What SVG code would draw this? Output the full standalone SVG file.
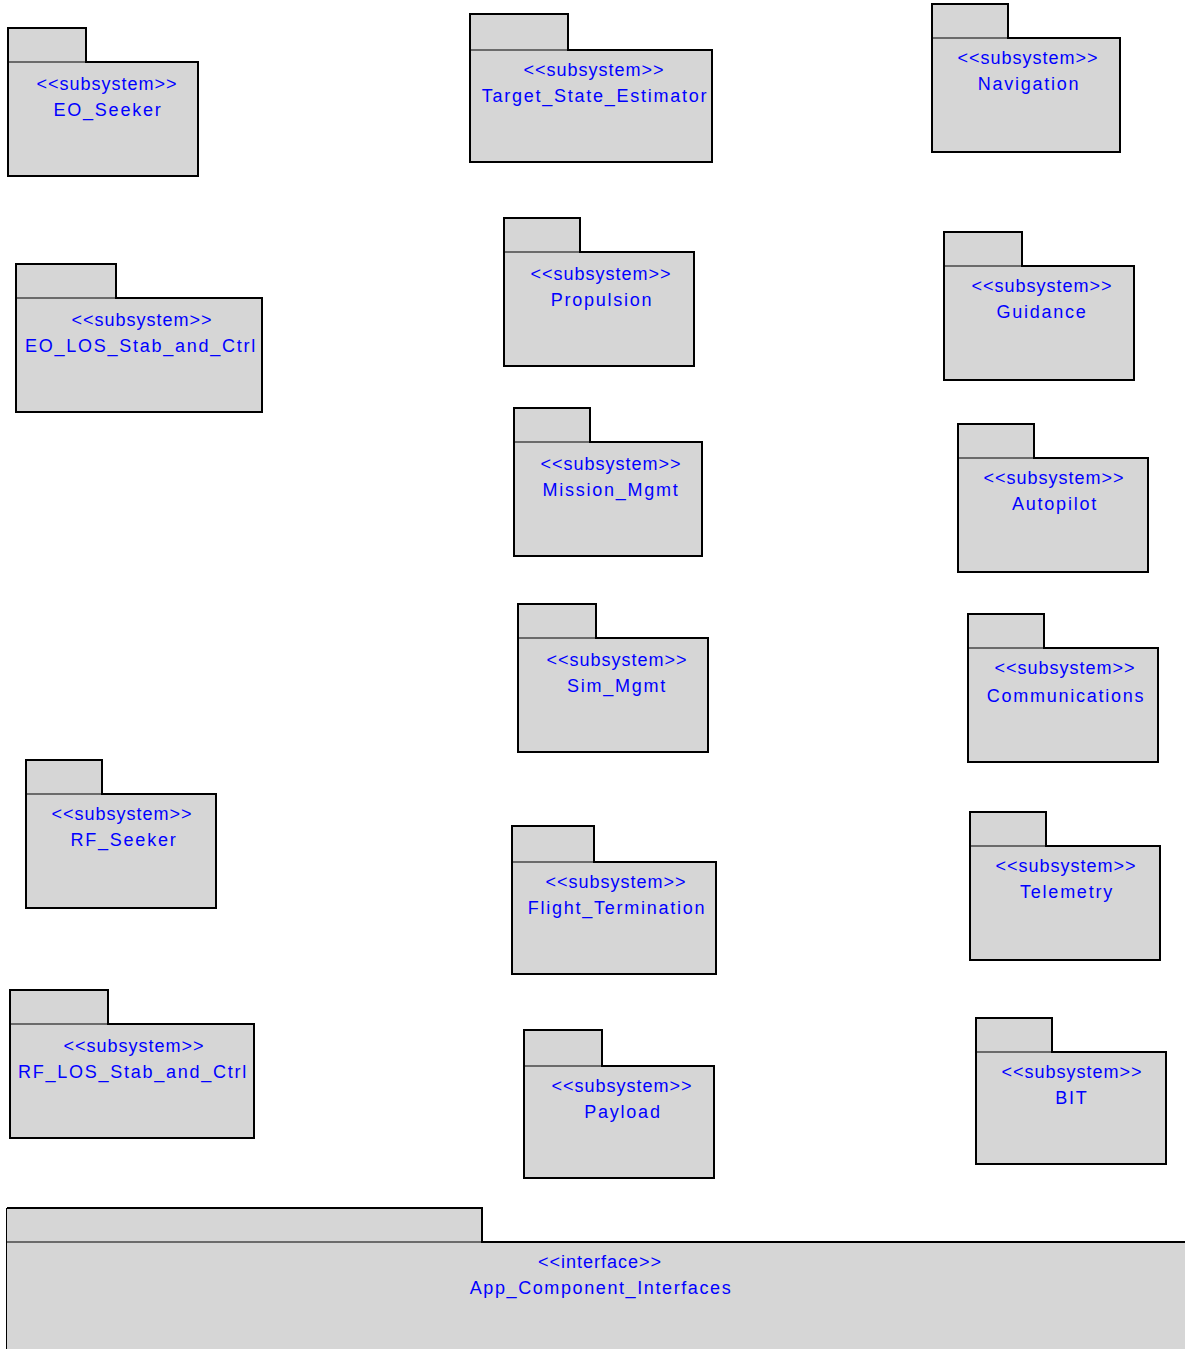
<svg xmlns="http://www.w3.org/2000/svg" width="1185" height="1349" viewBox="0 0 1185 1349">
<style>
.bg{fill:#ffffff}
.fill{fill:#d6d6d6;stroke:none}
.out{fill:none;stroke:#000;stroke-width:2;stroke-linejoin:miter}
.sep{stroke:#000;stroke-width:1}
.t{font-family:"Liberation Sans",Arial,sans-serif;font-size:18px;fill:#0000ff;text-anchor:middle;letter-spacing:1px}
.n{letter-spacing:1.75px}
</style>
<rect class="bg" x="0" y="0" width="1185" height="1349"/>
<g id="connectors"/>
<g id="EO_Seeker">
<rect class="fill" x="8" y="28" width="78" height="34"/><rect class="fill" x="8" y="62" width="190" height="114"/>
<path class="out" d="M8,176 V28 H86 V62 H198 V176 Z"/><line class="sep" x1="8" y1="62" x2="86" y2="62"/>
<text class="t" x="107" y="90">&lt;&lt;subsystem&gt;&gt;</text><text class="t n" x="108" y="116">EO_Seeker</text>
</g>
<g id="Target_State_Estimator">
<rect class="fill" x="470" y="14" width="98" height="36"/><rect class="fill" x="470" y="50" width="242" height="112"/>
<path class="out" d="M470,162 V14 H568 V50 H712 V162 Z"/><line class="sep" x1="470" y1="50" x2="568" y2="50"/>
<text class="t" x="594" y="76">&lt;&lt;subsystem&gt;&gt;</text><text class="t n" x="595" y="102">Target_State_Estimator</text>
</g>
<g id="Navigation">
<rect class="fill" x="932" y="4" width="76" height="34"/><rect class="fill" x="932" y="38" width="188" height="114"/>
<path class="out" d="M932,152 V4 H1008 V38 H1120 V152 Z"/><line class="sep" x1="932" y1="38" x2="1008" y2="38"/>
<text class="t" x="1028" y="64">&lt;&lt;subsystem&gt;&gt;</text><text class="t n" x="1029" y="90">Navigation</text>
</g>
<g id="EO_LOS_Stab_and_Ctrl">
<rect class="fill" x="16" y="264" width="100" height="34"/><rect class="fill" x="16" y="298" width="246" height="114"/>
<path class="out" d="M16,412 V264 H116 V298 H262 V412 Z"/><line class="sep" x1="16" y1="298" x2="116" y2="298"/>
<text class="t" x="142" y="326">&lt;&lt;subsystem&gt;&gt;</text><text class="t n" x="141" y="352">EO_LOS_Stab_and_Ctrl</text>
</g>
<g id="Propulsion">
<rect class="fill" x="504" y="218" width="76" height="34"/><rect class="fill" x="504" y="252" width="190" height="114"/>
<path class="out" d="M504,366 V218 H580 V252 H694 V366 Z"/><line class="sep" x1="504" y1="252" x2="580" y2="252"/>
<text class="t" x="601" y="280">&lt;&lt;subsystem&gt;&gt;</text><text class="t n" x="602" y="306">Propulsion</text>
</g>
<g id="Guidance">
<rect class="fill" x="944" y="232" width="78" height="34"/><rect class="fill" x="944" y="266" width="190" height="114"/>
<path class="out" d="M944,380 V232 H1022 V266 H1134 V380 Z"/><line class="sep" x1="944" y1="266" x2="1022" y2="266"/>
<text class="t" x="1042" y="292">&lt;&lt;subsystem&gt;&gt;</text><text class="t n" x="1042" y="318">Guidance</text>
</g>
<g id="Mission_Mgmt">
<rect class="fill" x="514" y="408" width="76" height="34"/><rect class="fill" x="514" y="442" width="188" height="114"/>
<path class="out" d="M514,556 V408 H590 V442 H702 V556 Z"/><line class="sep" x1="514" y1="442" x2="590" y2="442"/>
<text class="t" x="611" y="470">&lt;&lt;subsystem&gt;&gt;</text><text class="t n" x="611" y="496">Mission_Mgmt</text>
</g>
<g id="Autopilot">
<rect class="fill" x="958" y="424" width="76" height="34"/><rect class="fill" x="958" y="458" width="190" height="114"/>
<path class="out" d="M958,572 V424 H1034 V458 H1148 V572 Z"/><line class="sep" x1="958" y1="458" x2="1034" y2="458"/>
<text class="t" x="1054" y="484">&lt;&lt;subsystem&gt;&gt;</text><text class="t n" x="1055" y="510">Autopilot</text>
</g>
<g id="Sim_Mgmt">
<rect class="fill" x="518" y="604" width="78" height="34"/><rect class="fill" x="518" y="638" width="190" height="114"/>
<path class="out" d="M518,752 V604 H596 V638 H708 V752 Z"/><line class="sep" x1="518" y1="638" x2="596" y2="638"/>
<text class="t" x="617" y="666">&lt;&lt;subsystem&gt;&gt;</text><text class="t n" x="617" y="692">Sim_Mgmt</text>
</g>
<g id="Communications">
<rect class="fill" x="968" y="614" width="76" height="34"/><rect class="fill" x="968" y="648" width="190" height="114"/>
<path class="out" d="M968,762 V614 H1044 V648 H1158 V762 Z"/><line class="sep" x1="968" y1="648" x2="1044" y2="648"/>
<text class="t" x="1065" y="674">&lt;&lt;subsystem&gt;&gt;</text><text class="t n" x="1066" y="702">Communications</text>
</g>
<g id="RF_Seeker">
<rect class="fill" x="26" y="760" width="76" height="34"/><rect class="fill" x="26" y="794" width="190" height="114"/>
<path class="out" d="M26,908 V760 H102 V794 H216 V908 Z"/><line class="sep" x1="26" y1="794" x2="102" y2="794"/>
<text class="t" x="122" y="820">&lt;&lt;subsystem&gt;&gt;</text><text class="t n" x="124" y="846">RF_Seeker</text>
</g>
<g id="Flight_Termination">
<rect class="fill" x="512" y="826" width="82" height="36"/><rect class="fill" x="512" y="862" width="204" height="112"/>
<path class="out" d="M512,974 V826 H594 V862 H716 V974 Z"/><line class="sep" x1="512" y1="862" x2="594" y2="862"/>
<text class="t" x="616" y="888">&lt;&lt;subsystem&gt;&gt;</text><text class="t n" x="617" y="914">Flight_Termination</text>
</g>
<g id="Telemetry">
<rect class="fill" x="970" y="812" width="76" height="34"/><rect class="fill" x="970" y="846" width="190" height="114"/>
<path class="out" d="M970,960 V812 H1046 V846 H1160 V960 Z"/><line class="sep" x1="970" y1="846" x2="1046" y2="846"/>
<text class="t" x="1066" y="872">&lt;&lt;subsystem&gt;&gt;</text><text class="t n" x="1067" y="898">Telemetry</text>
</g>
<g id="RF_LOS_Stab_and_Ctrl">
<rect class="fill" x="10" y="990" width="98" height="34"/><rect class="fill" x="10" y="1024" width="244" height="114"/>
<path class="out" d="M10,1138 V990 H108 V1024 H254 V1138 Z"/><line class="sep" x1="10" y1="1024" x2="108" y2="1024"/>
<text class="t" x="134" y="1052">&lt;&lt;subsystem&gt;&gt;</text><text class="t n" x="133" y="1078">RF_LOS_Stab_and_Ctrl</text>
</g>
<g id="Payload">
<rect class="fill" x="524" y="1030" width="78" height="36"/><rect class="fill" x="524" y="1066" width="190" height="112"/>
<path class="out" d="M524,1178 V1030 H602 V1066 H714 V1178 Z"/><line class="sep" x1="524" y1="1066" x2="602" y2="1066"/>
<text class="t" x="622" y="1092">&lt;&lt;subsystem&gt;&gt;</text><text class="t n" x="623" y="1118">Payload</text>
</g>
<g id="BIT">
<rect class="fill" x="976" y="1018" width="76" height="34"/><rect class="fill" x="976" y="1052" width="190" height="112"/>
<path class="out" d="M976,1164 V1018 H1052 V1052 H1166 V1164 Z"/><line class="sep" x1="976" y1="1052" x2="1052" y2="1052"/>
<text class="t" x="1072" y="1078">&lt;&lt;subsystem&gt;&gt;</text><text class="t n" x="1072" y="1104">BIT</text>
</g>
<g id="App_Component_Interfaces">
<rect class="fill" x="7" y="1208" width="475" height="34"/><rect class="fill" x="7" y="1242" width="1180" height="110"/>
<path class="out" d="M7,1208 H482 V1242 H1187"/><line class="sep" x1="7" y1="1242" x2="482" y2="1242"/><line class="sep" x1="6.5" y1="1208" x2="6.5" y2="1350"/>
<text class="t" x="600" y="1268">&lt;&lt;interface&gt;&gt;</text><text class="t" x="601" y="1294" style="letter-spacing:1.6px">App_Component_Interfaces</text>
</g>
</svg>
